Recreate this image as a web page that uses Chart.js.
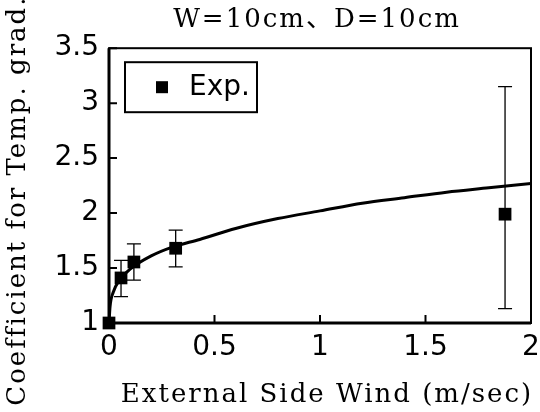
<!DOCTYPE html>
<html>
<head>
<meta charset="utf-8">
<script src="https://cdn.jsdelivr.net/npm/chart.js@4"></script>
<style>
  html, body { margin: 0; padding: 0; background: #fff; }
  #wrap { width: 540px; height: 412px; }
</style>
</head>
<body>
<div id="wrap"><canvas id="chart1" width="540" height="412"></canvas></div>
<script>
// measured points
var expX = [0, 0.057, 0.118, 0.316, 1.877];
var expY = [1.0, 1.41, 1.555, 1.68, 1.99];
var errHigh = [null, 1.57, 1.72, 1.845, 3.15];
var errLow = [null, 1.24, 1.39, 1.51, 1.13];

// fitted curve
var curveX = [0, 0.005, 0.02, 0.05, 0.1, 0.2, 0.3, 0.43, 0.6, 0.8, 1.0, 1.2, 1.4, 1.6, 1.8, 2.0];
var curveY = [1.0, 1.15, 1.28, 1.39, 1.49, 1.61, 1.69, 1.76, 1.86, 1.95, 2.02, 2.09, 2.14, 2.19, 2.23, 2.27];

var xTicks = [0, 0.5, 1, 1.5, 2];
var yTicks = [1, 1.5, 2, 2.5, 3, 3.5];

var serif = "'DejaVu Serif', 'Liberation Serif', 'Noto Sans CJK JP', serif";
var sans = "'DejaVu Sans', 'Noto Sans', sans-serif";

var boxPlugin = {
    id: 'boxPlugin',
    afterDatasetsDraw: function (chart) {
        var ctx = chart.ctx;
        var a = chart.chartArea;
        var xs = chart.scales.x, ys = chart.scales.y;
        ctx.save();
        ctx.strokeStyle = '#000';

        // error bars
        ctx.lineWidth = 1.3;
        for (var i = 0; i < expX.length; i++) {
            if (errHigh[i] == null) continue;
            var px = xs.getPixelForValue(expX[i]);
            var hi = ys.getPixelForValue(errHigh[i]);
            var lo = ys.getPixelForValue(errLow[i]);
            ctx.beginPath();
            ctx.moveTo(px, hi); ctx.lineTo(px, lo);
            ctx.moveTo(px - 7, hi); ctx.lineTo(px + 7, hi);
            ctx.moveTo(px - 7, lo); ctx.lineTo(px + 7, lo);
            ctx.stroke();
        }

        // frame
        ctx.lineWidth = 2;
        ctx.strokeRect(a.left, a.top, a.right - a.left, a.bottom - a.top);
        ctx.lineWidth = 3;
        ctx.beginPath();
        ctx.moveTo(a.left, a.top); ctx.lineTo(a.left, a.bottom); ctx.lineTo(a.right, a.bottom);
        ctx.stroke();

        // inward ticks
        ctx.lineWidth = 2;
        ctx.beginPath();
        xTicks.forEach(function (v) {
            var px = xs.getPixelForValue(v);
            ctx.moveTo(px, a.bottom); ctx.lineTo(px, a.bottom - 8);
        });
        yTicks.forEach(function (v) {
            var py = ys.getPixelForValue(v);
            ctx.moveTo(a.left, py); ctx.lineTo(a.left + 8, py);
        });
        ctx.stroke();

        // legend box
        var lx = a.left + 16, ly = a.top + 14;
        ctx.lineWidth = 2;
        ctx.strokeRect(lx, ly, 132, 50);
        ctx.fillStyle = '#000';
        ctx.fillRect(lx + 31, ly + 19, 12, 12);
        ctx.font = '28px ' + sans;
        ctx.textBaseline = 'middle';
        ctx.fillText('Exp.', lx + 64, ly + 26);
        ctx.restore();
    }
};

var ctx = document.getElementById('chart1').getContext('2d');
var chart = new Chart(ctx, {
    type: 'scatter',
    data: {
        datasets: [{
            label: 'Exp.',
            data: expX.map(function (x, i) { return { x: x, y: expY[i] }; }),
            pointStyle: 'rect',
            pointRadius: 9,
            pointHoverRadius: 9,
            backgroundColor: '#000',
            borderColor: '#000',
            borderWidth: 0,
            clip: false
        }, {
            label: 'fit',
            type: 'line',
            data: curveX.map(function (x, i) { return { x: x, y: curveY[i] }; }),
            borderColor: '#000',
            borderWidth: 3,
            pointRadius: 0,
            cubicInterpolationMode: 'monotone',
            fill: false
        }]
    },
    options: {
        responsive: false,
        animation: false,
        layout: { padding: { left: 0, right: 8, top: 0, bottom: 0 } },
        plugins: {
            legend: { display: false },
            tooltip: { enabled: false },
            title: {
                display: true,
                text: 'W=10cm\u3001D=10cm',
                color: '#000',
                font: { family: serif, size: 26, weight: 'normal' },
                padding: { top: 5, bottom: 12 }
            }
        },
        scales: {
            x: {
                type: 'linear',
                min: 0, max: 2,
                afterBuildTicks: function (s) { s.ticks = xTicks.map(function (v) { return { value: v }; }); },
                afterFit: function (s) { s.height = 89; s.paddingLeft = 0; s.paddingRight = 0; },
                ticks: {
                    color: '#000', font: { family: sans, size: 28 }, padding: 8, maxRotation: 0,
                    callback: function (v) { return String(v); }
                },
                grid: { display: false, drawTicks: false },
                border: { display: false },
                title: {
                    display: true,
                    text: 'External Side Wind (m/sec)',
                    color: '#000',
                    font: { family: serif, size: 26 },
                    padding: { top: 0, bottom: 1 }
                }
            },
            y: {
                type: 'linear',
                min: 1, max: 3.5,
                afterBuildTicks: function (s) { s.ticks = yTicks.map(function (v) { return { value: v }; }); },
                afterFit: function (s) { s.width = 109; s.paddingTop = 0; s.paddingBottom = 0; },
                ticks: {
                    color: '#000', font: { family: sans, size: 28 }, padding: 10,
                    callback: function (v) { return String(v); }
                },
                grid: { display: false, drawTicks: false },
                border: { display: false },
                title: {
                    display: true,
                    text: 'Coefficient for Temp. grad.',
                    color: '#000',
                    font: { family: serif, size: 26 },
                    padding: { top: 3, bottom: 0 }
                }
            }
        }
    },
    plugins: [boxPlugin]
});

// the original uses a wide serif face, so space the title letters out a bit
function spaced(obj, name, dx, dy) {
    var orig = obj[name];
    obj[name] = function () {
        var c = chart.ctx;
        c.save();
        c.letterSpacing = '2px';
        c.translate(dx, dy);
        orig.apply(this, arguments);
        c.restore();
    };
}
spaced(chart.scales.x, 'drawTitle', 7, 0);
spaced(chart.scales.y, 'drawTitle', 0, 15);
spaced(chart.titleBlock, 'draw', 51, 0);
chart.draw();
</script>
</body>
</html>
